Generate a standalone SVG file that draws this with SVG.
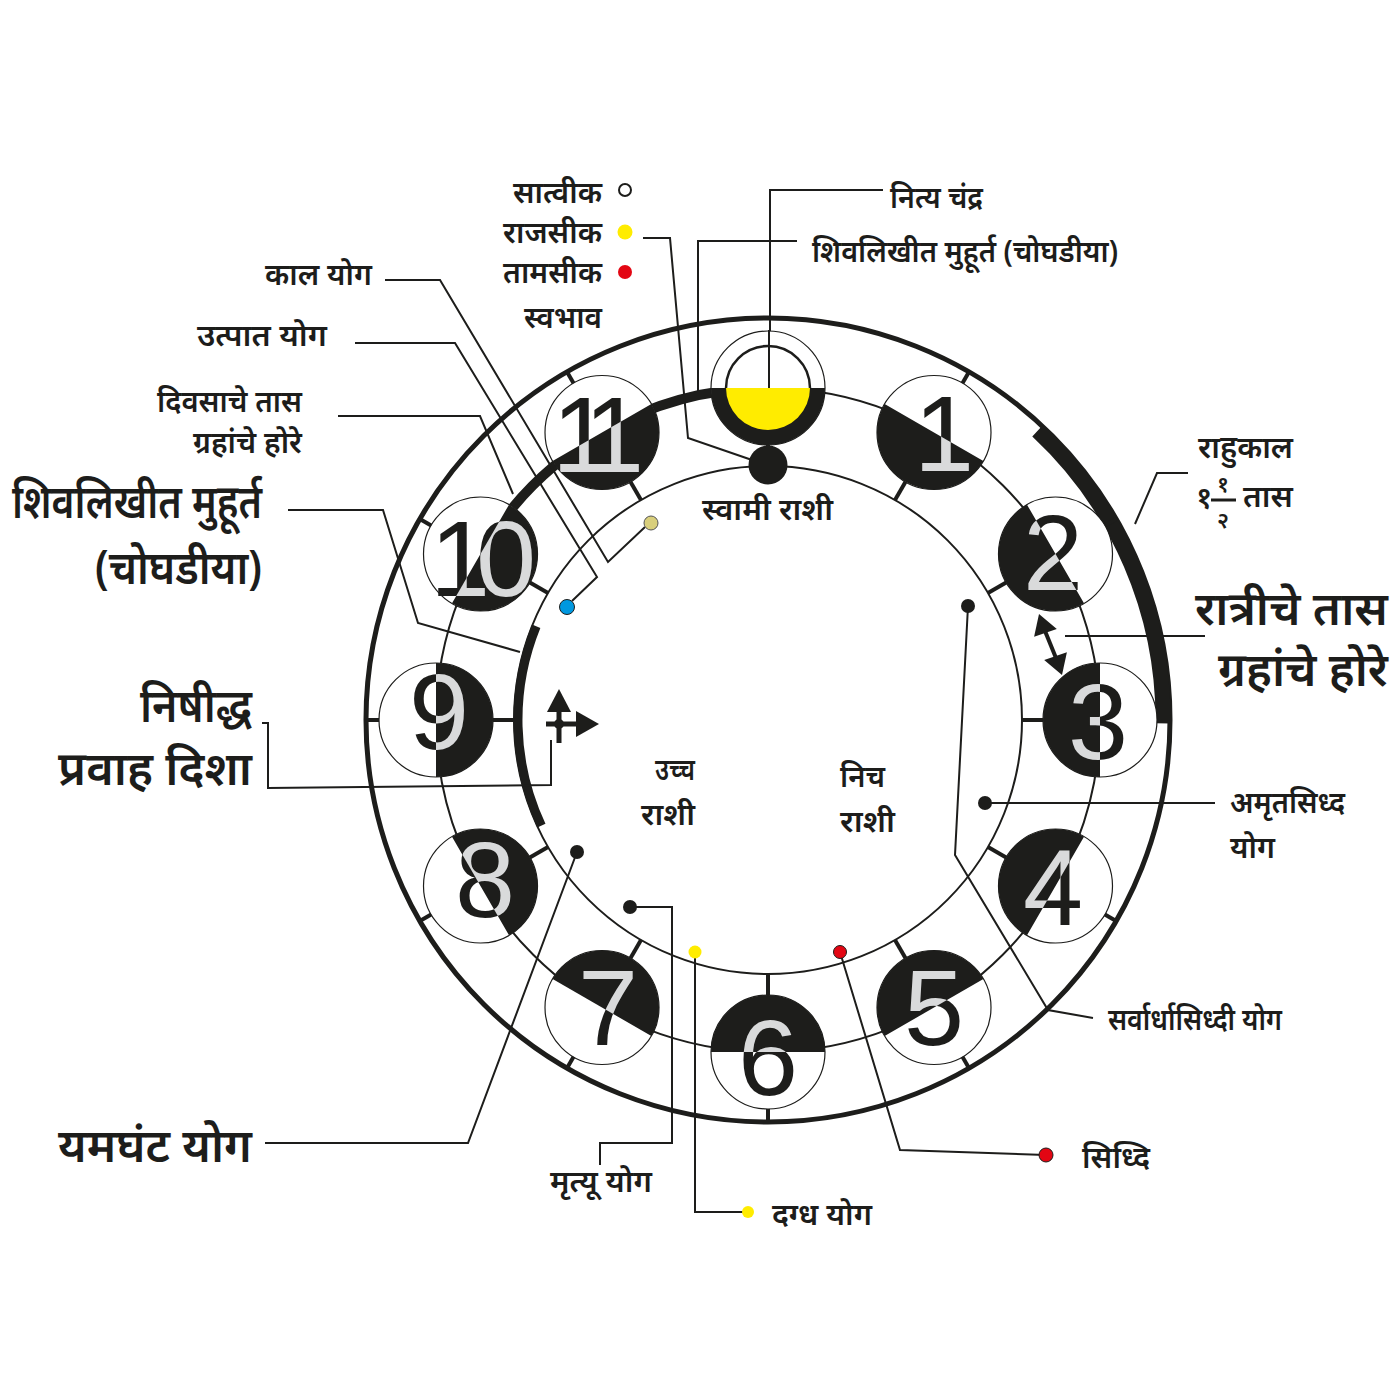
<svg xmlns="http://www.w3.org/2000/svg" width="1400" height="1400" viewBox="0 0 1400 1400">
<style>
.t{font-family:"Noto Sans",sans-serif;fill:#1d1d1b;font-weight:600}
.s{font-size:30px}
.L{font-size:46px}
.e{text-anchor:end}
.num{font-family:"Liberation Sans",Arial,sans-serif;font-size:108px;text-anchor:middle}
.blk{fill:#1d1d1b}
.gry{fill:#d9dadb}
.ring{fill:none;stroke:#1d1d1b;stroke-width:2}
.nc{fill:#fff;stroke:#1d1d1b;stroke-width:1.2}
.tick{stroke:#1d1d1b;stroke-width:4}
.conn{fill:none;stroke:#1d1d1b;stroke-width:2}
.dot{fill:#1d1d1b}
</style>
<defs>
<path id="half" d="M-57 0A57 57 0 0 0 57 0Z"/>
<clipPath id="c1"><use href="#half" transform="translate(934 432.5) rotate(30)"/></clipPath>
<clipPath id="c2"><use href="#half" transform="translate(1055.5 554) rotate(60)"/></clipPath>
<clipPath id="c3"><use href="#half" transform="translate(1100 720) rotate(90)"/></clipPath>
<clipPath id="c4"><use href="#half" transform="translate(1055.5 886) rotate(120)"/></clipPath>
<clipPath id="c5"><use href="#half" transform="translate(934 1007.5) rotate(150)"/></clipPath>
<clipPath id="c6"><use href="#half" transform="translate(768 1052) rotate(180)"/></clipPath>
<clipPath id="c7"><use href="#half" transform="translate(602 1007.5) rotate(210)"/></clipPath>
<clipPath id="c8"><use href="#half" transform="translate(480.5 886) rotate(240)"/></clipPath>
<clipPath id="c9"><use href="#half" transform="translate(436 720) rotate(270)"/></clipPath>
<clipPath id="c10"><use href="#half" transform="translate(480.5 554) rotate(300)"/></clipPath>
<clipPath id="c11"><use href="#half" transform="translate(602 432.5) rotate(330)"/></clipPath>
</defs>
<rect width="1400" height="1400" fill="#fff"/>

<g id="wheel">
<circle cx="768" cy="720" r="402" fill="none" stroke="#1d1d1b" stroke-width="5"/>
<circle cx="768" cy="720" r="332" class="ring"/>
<circle cx="768" cy="720" r="254" class="ring"/>
<path d="M1037.4 431.1A395 395 0 0 1 1163 723.4" fill="none" stroke="#1d1d1b" stroke-width="15"/>
<path d="M480.5 554A332 332 0 0 1 768 388" fill="none" stroke="#1d1d1b" stroke-width="10"/>
<path d="M541.4 825.7A250 250 0 0 1 536.2 626.3" fill="none" stroke="#1d1d1b" stroke-width="9"/>
<g id="ticks">
<line class="tick" x1="768" y1="466" x2="768" y2="444" transform="rotate(30 768 720)"/>
<line class="tick" x1="768" y1="332" x2="768" y2="317" transform="rotate(30 768 720)"/>
<line class="tick" x1="768" y1="466" x2="768" y2="444" transform="rotate(60 768 720)"/>
<line class="tick" x1="768" y1="332" x2="768" y2="317" transform="rotate(60 768 720)"/>
<line class="tick" x1="768" y1="466" x2="768" y2="444" transform="rotate(90 768 720)"/>
<line class="tick" x1="768" y1="332" x2="768" y2="317" transform="rotate(90 768 720)"/>
<line class="tick" x1="768" y1="466" x2="768" y2="444" transform="rotate(120 768 720)"/>
<line class="tick" x1="768" y1="332" x2="768" y2="317" transform="rotate(120 768 720)"/>
<line class="tick" x1="768" y1="466" x2="768" y2="444" transform="rotate(150 768 720)"/>
<line class="tick" x1="768" y1="332" x2="768" y2="317" transform="rotate(150 768 720)"/>
<line class="tick" x1="768" y1="466" x2="768" y2="444" transform="rotate(180 768 720)"/>
<line class="tick" x1="768" y1="332" x2="768" y2="317" transform="rotate(180 768 720)"/>
<line class="tick" x1="768" y1="466" x2="768" y2="444" transform="rotate(210 768 720)"/>
<line class="tick" x1="768" y1="332" x2="768" y2="317" transform="rotate(210 768 720)"/>
<line class="tick" x1="768" y1="466" x2="768" y2="444" transform="rotate(240 768 720)"/>
<line class="tick" x1="768" y1="332" x2="768" y2="317" transform="rotate(240 768 720)"/>
<line class="tick" x1="768" y1="466" x2="768" y2="444" transform="rotate(270 768 720)"/>
<line class="tick" x1="768" y1="332" x2="768" y2="317" transform="rotate(270 768 720)"/>
<line class="tick" x1="768" y1="466" x2="768" y2="444" transform="rotate(300 768 720)"/>
<line class="tick" x1="768" y1="332" x2="768" y2="317" transform="rotate(300 768 720)"/>
<line class="tick" x1="768" y1="466" x2="768" y2="444" transform="rotate(330 768 720)"/>
<line class="tick" x1="768" y1="332" x2="768" y2="317" transform="rotate(330 768 720)"/>
<line class="tick" x1="768" y1="440" x2="768" y2="452"/>
</g>
</g>

<g id="connectors">
<path class="conn" d="M883 190H770V388"/>
<path class="conn" d="M797 241H698V396"/>
<path class="conn" d="M643 238H670L688 438L752 460"/>
<path class="conn" d="M385 280H440L608 562L645 527"/>
<path class="conn" d="M355 343H455L597 577L572 601"/>
<path class="conn" d="M338 416H480L513 494"/>
<path class="conn" d="M288 510H383L418 623L520 652"/>
<path class="conn" d="M262 723H268V788L551 785V740"/>
<path class="conn" d="M265 1143H468L577 852"/>
<path class="conn" d="M600 1165V1143H672V907H630"/>
<path class="conn" d="M748 1212H695V952"/>
<path class="conn" d="M1046 1155L900 1150L840 952"/>
<path class="conn" d="M1093 1018L1048 1010L955 855L968 606"/>
<path class="conn" d="M985 803H1215"/>
<path class="conn" d="M1135 524L1157 473H1188"/>
<path class="conn" d="M1065 636H1205"/>
<g id="double-arrow" fill="#1d1d1b">
<line x1="1045" y1="631" x2="1056" y2="658" stroke="#1d1d1b" stroke-width="4"/>
<path d="M1039 614L1056.8 629.1L1034.1 636.8Z"/>
<path d="M1062 675L1066.9 652.2L1044.2 659.9Z"/>
</g>
</g>

<g id="n12">
<circle cx="768" cy="388" r="57" class="nc"/>
<path d="M711 388A57 57 0 0 0 825 388Z" class="blk"/>
<path d="M726 388A42 42 0 0 0 810 388Z" fill="#ffec00"/>
<path d="M726 388A42 42 0 0 1 810 388" fill="none" stroke="#1d1d1b" stroke-width="2.5"/>
<line x1="769" y1="330" x2="769" y2="388" stroke="#1d1d1b" stroke-width="2"/>
</g>
<g id="n1"><circle cx="934" cy="432.5" r="57" class="nc"/><use href="#half" transform="translate(934 432.5) rotate(30)" class="blk"/><text x="944" y="471" class="num blk">1</text><text x="944" y="471" class="num gry" clip-path="url(#c1)">1</text></g>
<g id="n2"><circle cx="1055.5" cy="554" r="57" class="nc"/><use href="#half" transform="translate(1055.5 554) rotate(60)" class="blk"/><text x="1053" y="590" class="num blk">2</text><text x="1053" y="590" class="num gry" clip-path="url(#c2)">2</text></g>
<g id="n3"><circle cx="1100" cy="720" r="57" class="nc"/><use href="#half" transform="translate(1100 720) rotate(90)" class="blk"/><text x="1098" y="759" class="num blk">3</text><text x="1098" y="759" class="num gry" clip-path="url(#c3)">3</text></g>
<g id="n4"><circle cx="1055.5" cy="886" r="57" class="nc"/><use href="#half" transform="translate(1055.5 886) rotate(120)" class="blk"/><text x="1053" y="925" class="num blk">4</text><text x="1053" y="925" class="num gry" clip-path="url(#c4)">4</text></g>
<g id="n5"><circle cx="934" cy="1007.5" r="57" class="nc"/><use href="#half" transform="translate(934 1007.5) rotate(150)" class="blk"/><text x="934" y="1045" class="num blk">5</text><text x="934" y="1045" class="num gry" clip-path="url(#c5)">5</text></g>
<g id="n6"><circle cx="768" cy="1052" r="57" class="nc"/><use href="#half" transform="translate(768 1052) rotate(180)" class="blk"/><text x="768" y="1095" class="num blk">6</text><text x="768" y="1095" class="num gry" clip-path="url(#c6)">6</text></g>
<g id="n7"><circle cx="602" cy="1007.5" r="57" class="nc"/><use href="#half" transform="translate(602 1007.5) rotate(210)" class="blk"/><text x="608" y="1045" class="num blk">7</text><text x="608" y="1045" class="num gry" clip-path="url(#c7)">7</text></g>
<g id="n8"><circle cx="480.5" cy="886" r="57" class="nc"/><use href="#half" transform="translate(480.5 886) rotate(240)" class="blk"/><text x="485" y="917" class="num blk">8</text><text x="485" y="917" class="num gry" clip-path="url(#c8)">8</text></g>
<g id="n9"><circle cx="436" cy="720" r="57" class="nc"/><use href="#half" transform="translate(436 720) rotate(270)" class="blk"/><text x="439" y="749" class="num blk">9</text><text x="439" y="749" class="num gry" clip-path="url(#c9)">9</text></g>
<g id="n10"><circle cx="480.5" cy="554" r="57" class="nc"/><use href="#half" transform="translate(480.5 554) rotate(300)" class="blk"/><text x="476" y="596" class="num blk" letter-spacing="-14">10</text><text x="476" y="596" class="num gry" letter-spacing="-14" clip-path="url(#c10)">10</text></g>
<g id="n11"><circle cx="602" cy="432.5" r="57" class="nc"/><use href="#half" transform="translate(602 432.5) rotate(330)" class="blk"/><text x="588" y="472" class="num blk" letter-spacing="-20">11</text><text x="588" y="472" class="num gry" letter-spacing="-20" clip-path="url(#c11)">11</text></g>

<g id="dots">
<circle cx="768" cy="465" r="19.5" class="dot"/>
<circle cx="651" cy="523" r="7" fill="#d9cf7c" stroke="#555" stroke-width="1"/>
<circle cx="567" cy="607" r="7.5" fill="#0098e0" stroke="#1d1d1b" stroke-width="1"/>
<circle cx="968" cy="606" r="7" class="dot"/>
<circle cx="985" cy="803" r="7" class="dot"/>
<circle cx="577" cy="852" r="7" class="dot"/>
<circle cx="630" cy="907" r="7" class="dot"/>
<circle cx="695" cy="952" r="6.5" fill="#ffec00"/>
<circle cx="840" cy="952" r="6.5" fill="#e30613" stroke="#1d1d1b" stroke-width="1"/>
<circle cx="748" cy="1212" r="6" fill="#ffec00"/>
<circle cx="1046" cy="1155" r="7" fill="#e30613" stroke="#1d1d1b" stroke-width="1"/>
<circle cx="625" cy="190" r="6" fill="#fff" stroke="#1d1d1b" stroke-width="2"/>
<circle cx="625" cy="232" r="7.5" fill="#ffec00"/>
<circle cx="625" cy="272" r="7" fill="#e30613"/>
</g>

<g id="flow-symbol" fill="#1d1d1b">
<path d="M559 689L547 712H571Z"/>
<path d="M576 711L599 724L576 737Z"/>
<rect x="546" y="721.5" width="32" height="5"/>
<rect x="556.5" y="710" width="5" height="33"/>
<circle cx="559" cy="724" r="5"/>
</g>

<g id="labels">
<text x="602" y="203" class="t s e" textLength="89" lengthAdjust="spacingAndGlyphs">सात्वीक</text>
<text x="602" y="243" class="t s e" textLength="99" lengthAdjust="spacingAndGlyphs">राजसीक</text>
<text x="602" y="283" class="t s e" textLength="99" lengthAdjust="spacingAndGlyphs">तामसीक</text>
<text x="602" y="328" class="t s e" textLength="78" lengthAdjust="spacingAndGlyphs">स्वभाव</text>
<text x="890" y="208" class="t s" textLength="93" lengthAdjust="spacingAndGlyphs">नित्य चंद्र</text>
<text x="812" y="262" class="t s" textLength="306" lengthAdjust="spacingAndGlyphs">शिवलिखीत मुहूर्त (चोघडीया)</text>
<text x="372" y="285" class="t s e" textLength="107" lengthAdjust="spacingAndGlyphs">काल योग</text>
<text x="327" y="346" class="t s e" textLength="130" lengthAdjust="spacingAndGlyphs">उत्पात योग</text>
<text x="302" y="412" class="t s e" textLength="145" lengthAdjust="spacingAndGlyphs">दिवसाचे तास</text>
<text x="302" y="453" class="t s e" textLength="109" lengthAdjust="spacingAndGlyphs">ग्रहांचे होरे</text>
<text x="262" y="518" class="t L e" textLength="250" lengthAdjust="spacingAndGlyphs">शिवलिखीत मुहूर्त</text>
<text x="262" y="584" class="t L e" textLength="167" lengthAdjust="spacingAndGlyphs">(चोघडीया)</text>
<text x="252" y="722" class="t L e" textLength="112" lengthAdjust="spacingAndGlyphs">निषीद्ध</text>
<text x="252" y="785" class="t L e" textLength="194" lengthAdjust="spacingAndGlyphs">प्रवाह दिशा</text>
<text x="252" y="1162" class="t L e" textLength="194" lengthAdjust="spacingAndGlyphs">यमघंट योग</text>
<text x="550" y="1192" class="t s" textLength="102" lengthAdjust="spacingAndGlyphs">मृत्यू योग</text>
<text x="772" y="1225" class="t s" textLength="100" lengthAdjust="spacingAndGlyphs">दग्ध योग</text>
<text x="1082" y="1168" class="t s" textLength="68" lengthAdjust="spacingAndGlyphs">सिध्दि</text>
<text x="1108" y="1030" class="t s" textLength="174" lengthAdjust="spacingAndGlyphs">सर्वार्धासिध्दी योग</text>
<text x="1230" y="813" class="t s" textLength="115" lengthAdjust="spacingAndGlyphs">अमृतसिध्द</text>
<text x="1230" y="858" class="t s" textLength="45" lengthAdjust="spacingAndGlyphs">योग</text>
<text x="1198" y="458" class="t s" textLength="95" lengthAdjust="spacingAndGlyphs">राहुकाल</text>
<text x="1196" y="508" class="t s">१</text>
<text x="1223" y="492" class="t" font-size="22" text-anchor="middle">१</text>
<line x1="1211" y1="500" x2="1236" y2="500" stroke="#1d1d1b" stroke-width="3"/>
<text x="1223" y="528" class="t" font-size="22" text-anchor="middle">२</text>
<text x="1243" y="507" class="t s" textLength="50" lengthAdjust="spacingAndGlyphs">तास</text>
<text x="1388" y="625" class="t L e" textLength="193" lengthAdjust="spacingAndGlyphs">रात्रीचे तास</text>
<text x="1388" y="686" class="t L e" textLength="170" lengthAdjust="spacingAndGlyphs">ग्रहांचे होरे</text>
<text x="702" y="520" class="t s" textLength="131" lengthAdjust="spacingAndGlyphs">स्वामी राशी</text>
<text x="695" y="780" class="t s e" textLength="40" lengthAdjust="spacingAndGlyphs">उच्च</text>
<text x="695" y="825" class="t s e" textLength="54" lengthAdjust="spacingAndGlyphs">राशी</text>
<text x="840" y="787" class="t s" textLength="45" lengthAdjust="spacingAndGlyphs">निच</text>
<text x="840" y="832" class="t s" textLength="55" lengthAdjust="spacingAndGlyphs">राशी</text>
</g>
</svg>
